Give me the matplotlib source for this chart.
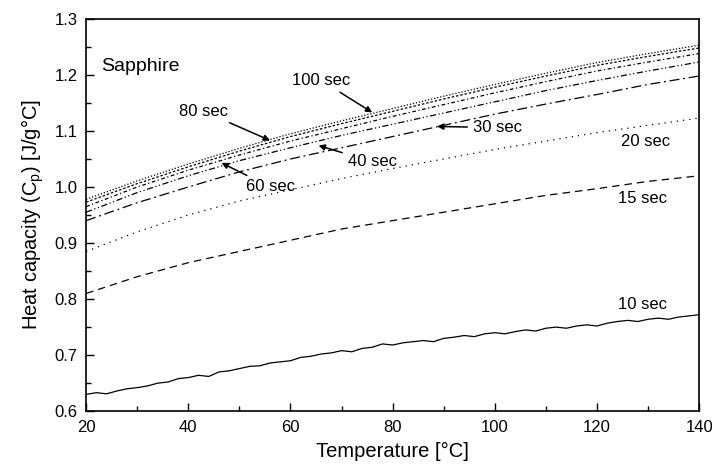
import matplotlib
matplotlib.use("Agg")
import matplotlib.pyplot as plt
from matplotlib.ticker import MultipleLocator, FormatStrFormatter

plt.rcParams['font.family'] = ['Liberation Sans', 'DejaVu Sans']

# data
temps = [20, 30, 40, 50, 60, 70, 80, 90, 100, 110, 120, 130, 140]
cp_15 = [0.81, 0.84, 0.865, 0.885, 0.905, 0.925, 0.94, 0.955, 0.97, 0.985, 0.997, 1.01, 1.02]
cp_20 = [0.885, 0.92, 0.95, 0.975, 0.995, 1.015, 1.033, 1.05, 1.067, 1.082, 1.097, 1.11, 1.123]
cp_30 = [0.94, 0.972, 1.0, 1.027, 1.05, 1.07, 1.09, 1.11, 1.13, 1.148, 1.165, 1.183, 1.198]
cp_40 = [0.955, 0.99, 1.02, 1.047, 1.07, 1.092, 1.112, 1.132, 1.152, 1.172, 1.19, 1.207, 1.223]
cp_60 = [0.965, 1.0, 1.03, 1.057, 1.082, 1.104, 1.126, 1.147, 1.168, 1.188, 1.207, 1.223, 1.238]
cp_80 = [0.973, 1.006, 1.036, 1.064, 1.09, 1.113, 1.135, 1.157, 1.178, 1.198, 1.217, 1.233, 1.248]
cp_100 = [0.978, 1.011, 1.041, 1.069, 1.095, 1.118, 1.14, 1.162, 1.183, 1.203, 1.222, 1.238, 1.253]

temps_10 = list(range(20, 141, 2))
cp_10 = [0.630, 0.633, 0.631, 0.636, 0.640, 0.642, 0.645, 0.650, 0.652, 0.658,
         0.660, 0.664, 0.662, 0.670, 0.672, 0.676, 0.680, 0.681, 0.686, 0.688,
         0.690, 0.696, 0.698, 0.702, 0.704, 0.708, 0.706, 0.712, 0.714, 0.720,
         0.718, 0.722, 0.724, 0.726, 0.724, 0.730, 0.732, 0.735, 0.733, 0.738,
         0.740, 0.738, 0.742, 0.745, 0.743, 0.748, 0.750, 0.748, 0.752, 0.754,
         0.752, 0.757, 0.760, 0.762, 0.760, 0.764, 0.766, 0.764, 0.768, 0.770,
         0.772]

fig = plt.figure(figsize=(7.12, 4.71), dpi=100)
ax = fig.add_axes([0.121, 0.127, 0.861, 0.833])

lw = 0.9
ax.plot(temps_10, cp_10, color='black', lw=lw, ls='-')
ax.plot(temps, cp_15, color='black', lw=lw, ls=(0, (6, 4)))
ax.plot(temps, cp_20, color='black', lw=lw, ls=(0, (1, 4)))
ax.plot(temps, cp_30, color='black', lw=lw, ls=(0, (8, 3, 1.5, 3)))
ax.plot(temps, cp_40, color='black', lw=lw, ls=(0, (5, 2, 1, 2, 1, 2)))
ax.plot(temps, cp_60, color='black', lw=lw, ls=(0, (3, 2, 1, 2)))
ax.plot(temps, cp_80, color='black', lw=lw, ls=(0, (2, 1.5)))
ax.plot(temps, cp_100, color='black', lw=lw, ls=(0, (1, 1.5)))

ax.set_xlim(20, 140)
ax.set_ylim(0.6, 1.3)
ax.xaxis.set_major_locator(MultipleLocator(20))
ax.xaxis.set_minor_locator(MultipleLocator(10))
ax.yaxis.set_major_locator(MultipleLocator(0.1))
ax.yaxis.set_minor_locator(MultipleLocator(0.05))
ax.yaxis.set_major_formatter(FormatStrFormatter('%.1f'))
ax.tick_params(which='both', direction='in', top=False, right=False, labelsize=12)
ax.tick_params(which='major', length=6, width=1, pad=6)
ax.tick_params(which='minor', length=3.5, width=1)
for s in ax.spines.values():
    s.set_linewidth(1.2)

ax.set_xlabel('Temperature [°C]', fontsize=14.5, labelpad=5)
ax.set_ylabel('Heat capacity (C$_\\mathregular{p}$) [J/g°C]', fontsize=14.5, labelpad=6)

ax.text(23, 1.215, 'Sapphire', fontsize=14, va='center', ha='left')

arrow = dict(arrowstyle='-|>', color='black', lw=1.1, mutation_scale=9, shrinkA=2, shrinkB=0)
fs = 12
ax.annotate('100 sec', xy=(76, 1.133), xytext=(66, 1.19), fontsize=fs,
            ha='center', va='center', arrowprops=arrow)
ax.annotate('80 sec', xy=(56, 1.083), xytext=(43, 1.135), fontsize=fs,
            ha='center', va='center', arrowprops=arrow)
ax.annotate('60 sec', xy=(46.5, 1.043), xytext=(56, 1.0), fontsize=fs,
            ha='center', va='center', arrowprops=arrow)
ax.annotate('40 sec', xy=(65.5, 1.074), xytext=(76, 1.045), fontsize=fs,
            ha='center', va='center', arrowprops=arrow)
ax.annotate('30 sec', xy=(88.7, 1.108), xytext=(100.5, 1.106), fontsize=fs,
            ha='center', va='center', arrowprops=arrow)
ax.text(129.5, 1.082, '20 sec', fontsize=fs, ha='center', va='center')
ax.text(129, 0.98, '15 sec', fontsize=fs, ha='center', va='center')
ax.text(129, 0.79, '10 sec', fontsize=fs, ha='center', va='center')

fig.savefig('out.png', dpi=100)
